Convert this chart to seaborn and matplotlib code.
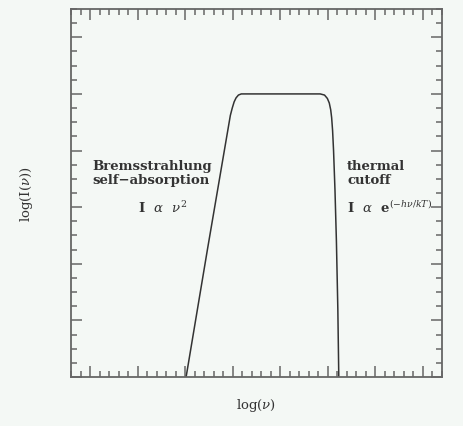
import numpy as np
import pandas as pd
import seaborn as sns
import matplotlib.pyplot as plt
from matplotlib.ticker import MultipleLocator

# spectrum shape (log nu, log I)
log_nu = [3.02, 3.47, 3.83, 3.95, 3.99, 4.03, 4.07, 4.12, 4.18,
          5.84, 5.93, 5.99, 6.03, 6.06, 6.08, 6.10, 6.12, 6.15, 6.18, 6.21, 6.23]
log_I = [0.0, 2.26, 4.03, 4.62, 4.75, 4.86, 4.93, 4.98, 5.0,
         5.0, 4.98, 4.92, 4.84, 4.72, 4.58, 4.35, 4.0, 3.3, 2.4, 1.2, 0.0]

df = pd.DataFrame({'log_nu': log_nu, 'log_I': log_I})

sns.set_theme(style='ticks')
plt.rcParams['font.family'] = ['DejaVu Serif', 'DejaVu Sans']
plt.rcParams['mathtext.fontset'] = 'dejavuserif'

bg = '#f4f8f5'
frame = '#666666'
ink = '#333333'

fig = plt.figure(figsize=(4.64, 4.27), dpi=100, facecolor=bg)
ax = fig.add_axes([71/464, 1 - 378/427, 371/464, 368/427])
ax.set_facecolor(bg)

sns.lineplot(data=df, x='log_nu', y='log_I', sort=False, estimator=None,
             color=ink, linewidth=1.1, ax=ax)

ax.set_xlim(0.6, 8.4)
ax.set_ylim(0, 6.5)
ax.xaxis.set_major_locator(MultipleLocator(1))
ax.xaxis.set_minor_locator(MultipleLocator(0.2))
ax.yaxis.set_major_locator(MultipleLocator(1))
ax.yaxis.set_minor_locator(MultipleLocator(0.25))
ax.tick_params(which='both', direction='in', top=True, right=True,
               labelbottom=False, labelleft=False, color=frame, width=1.1)
ax.tick_params(which='major', length=8)
ax.tick_params(which='minor', length=4)
for s in ax.spines.values():
    s.set_color(frame)
    s.set_linewidth(1.3)

ax.set_xlabel(r'log($\nu$)', fontsize=9.5, color=ink, labelpad=14)
ax.set_ylabel(r'log(I($\nu$))', fontsize=9.5, color=ink, labelpad=26)

ax.text(0.057, 0.576, 'Bremsstrahlung', transform=ax.transAxes, fontsize=9.5,
        color=ink, va='center', fontweight='bold')
ax.text(0.057, 0.538, 'self\u2212absorption', transform=ax.transAxes, fontsize=9.5,
        color=ink, va='center', fontweight='bold')
ax.text(0.18, 0.462, r'I  $\alpha$  $\nu^2$', transform=ax.transAxes, fontsize=9.5,
        color=ink, va='center', fontweight='bold')
ax.text(0.744, 0.576, 'thermal', transform=ax.transAxes, fontsize=9.5,
        color=ink, va='center', fontweight='bold')
ax.text(0.744, 0.538, 'cutoff', transform=ax.transAxes, fontsize=9.5,
        color=ink, va='center', fontweight='bold')
ax.text(0.744, 0.462, r'I  $\alpha$  e$^{(-h\nu/kT)}$', transform=ax.transAxes,
        fontsize=9.5, color=ink, va='center', fontweight='bold')

fig.savefig('out.png', dpi=100, facecolor=bg)
